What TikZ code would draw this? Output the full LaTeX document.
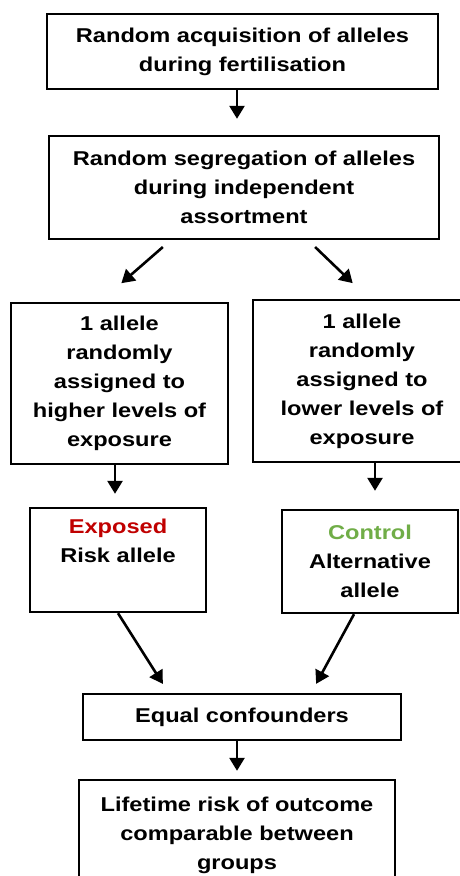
\documentclass[tikz,border=0pt]{standalone}
\usepackage{fontspec}
\setmainfont{Liberation Sans}[FakeStretch=1.18]
\usetikzlibrary{arrows.meta}
\definecolor{exposedred}{HTML}{C00000}
\definecolor{controlgreen}{HTML}{70AD47}
\tikzset{
  box/.style={draw, line width=2.4pt, align=center, inner sep=0pt,
    font=\fontsize{20}{29}\selectfont\bfseries},
  arr/.style={line width=2.6pt, -{Triangle[length=13pt,width=15pt]}}
}
\begin{document}
\begin{tikzpicture}[x=1pt, y=-1pt]
  \useasboundingbox (0,0) rectangle (460,876);
  % boxes
  \node[box, minimum width=391pt, minimum height=75pt] (acq) at (242.5,51.5)
    {Random acquisition of alleles\\during fertilisation};
  \node[box, minimum width=390pt, minimum height=103pt] (seg) at (244,187.5)
    {Random segregation of alleles\\during independent\\assortment};
  \node[box, minimum width=217pt, minimum height=161pt] (high) at (119.5,383.5)
    {1 allele\\randomly\\assigned to\\higher levels of\\exposure};
  \node[box, minimum width=218pt, minimum height=162pt] (low) at (362,381)
    {1 allele\\randomly\\assigned to\\lower levels of\\exposure};
  \node[box, minimum width=176pt, minimum height=104pt] (risk) at (118,560)
    {\textcolor{exposedred}{Exposed}\\Risk allele\\\strut};
  \node[box, minimum width=176pt, minimum height=103pt] (alt) at (370,561.5)
    {\textcolor{controlgreen}{Control}\\Alternative\\allele};
  \node[box, minimum width=318pt, minimum height=46pt] (conf) at (242,717)
    {Equal confounders};
  \node[box, minimum width=316pt, minimum height=110pt] (life) at (237,835)
    {Lifetime risk of outcome\\comparable between\\groups};
  % connectors
  \draw[arr, shorten >=16pt] ([xshift=-5.5pt]acq.south) -- ([xshift=-7pt]seg.north);
  \draw[arr, shorten <=10.4pt, shorten >=28.3pt]
    ([xshift=-73.3pt]seg.south) -- ([xshift=-19.5pt]high.north);
  \draw[arr, shorten <=9.9pt, shorten >=22.6pt]
    ([xshift=64pt]seg.south) -- ([xshift=7pt]low.north);
  \draw[arr, shorten >=13pt] ([xshift=-4.5pt]high.south) -- ([xshift=-3pt]risk.north);
  \draw[arr, shorten >=18pt] ([xshift=13pt]low.south) -- ([xshift=5pt]alt.north);
  \draw[arr, shorten >=10.5pt] (risk.south) -- ([xshift=-73.5pt]conf.north);
  \draw[arr, shorten >=10.2pt] ([xshift=-16pt]alt.south) -- ([xshift=69.25pt]conf.north);
  \draw[arr, shorten >=8pt] ([xshift=-5pt]conf.south) -- (life.north);
\end{tikzpicture}
\end{document}
